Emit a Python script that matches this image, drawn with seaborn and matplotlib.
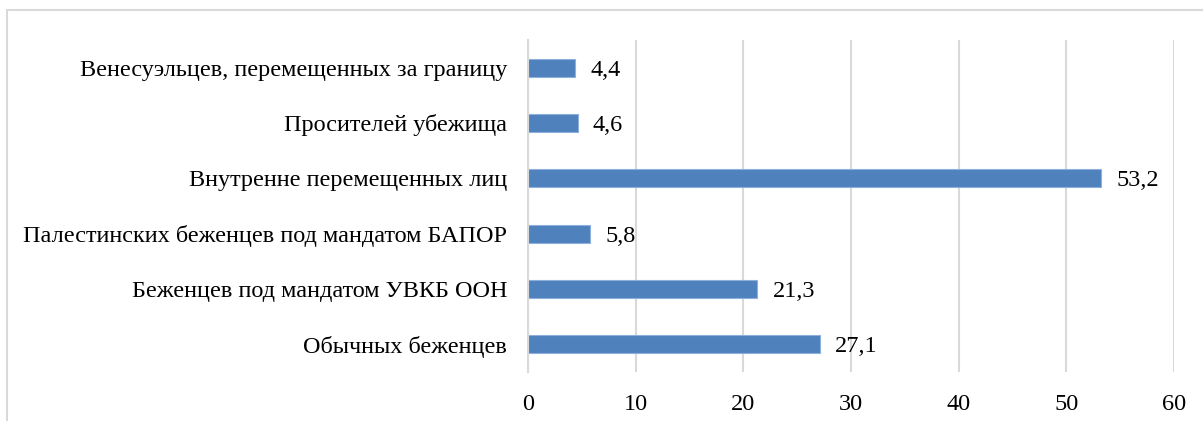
import matplotlib
matplotlib.use("Agg")
import matplotlib.pyplot as plt
import seaborn as sns
import pandas as pd
from matplotlib.patches import Rectangle

categories = [
    "Венесуэльцев, перемещенных за границу",
    "Просителей убежища",
    "Внутренне перемещенных лиц",
    "Палестинских беженцев под мандатом БАПОР",
    "Беженцев под мандатом УВКБ ООН",
    "Обычных беженцев",
]
values = [4.4, 4.6, 53.2, 5.8, 21.3, 27.1]
value_labels = ["4,4", "4,6", "53,2", "5,8", "21,3", "27,1"]
x_ticks = [0, 10, 20, 30, 40, 50, 60]

sns.set_theme(style="white")
plt.rcParams["font.family"] = ["Liberation Serif", "DejaVu Serif"]

df = pd.DataFrame({"cat": categories, "val": values})

W, H = 1203, 421
fig = plt.figure(figsize=(W / 100, H / 100), dpi=100)
ax = fig.add_axes([528 / W, 1 - 372 / H, (1174 - 528) / W, (372 - 40) / H])

sns.barplot(data=df, y="cat", x="val", orient="h", color="#4F81BD",
            saturation=1, width=0.325, ax=ax,
            edgecolor="#8DB0DC", linewidth=0.8)

ax.set_xlim(0, 60)
ax.set_ylim(5.5, -0.5)
ax.set_xticks(x_ticks)
ax.set_xticklabels([str(t) for t in x_ticks])
ax.xaxis.grid(True, color="#d9d9d9", linewidth=1.5)
ax.set_axisbelow(True)
for s in ["top", "right", "bottom"]:
    ax.spines[s].set_visible(False)
ax.spines["left"].set_color("#d9d9d9")
ax.spines["left"].set_linewidth(1.5)
ax.tick_params(axis="both", length=0, labelsize=17.5, colors="black")
ax.tick_params(axis="y", pad=15)
ax.tick_params(axis="x", pad=16)
ax.set_xlabel("")
ax.set_ylabel("")

for i, (v, lab) in enumerate(zip(values, value_labels)):
    ax.annotate(lab, xy=(v, i), xytext=(11, 0), textcoords="offset points",
                va="center_baseline", ha="left", fontsize=17.5, color="black")

fig.patches.append(Rectangle((7 / W, -0.1), 1.2, 1 - 10 / H + 0.1,
                             transform=fig.transFigure, fill=False,
                             edgecolor="#d9d9d9", linewidth=1.5))

fig.savefig("out.png", dpi=100)
